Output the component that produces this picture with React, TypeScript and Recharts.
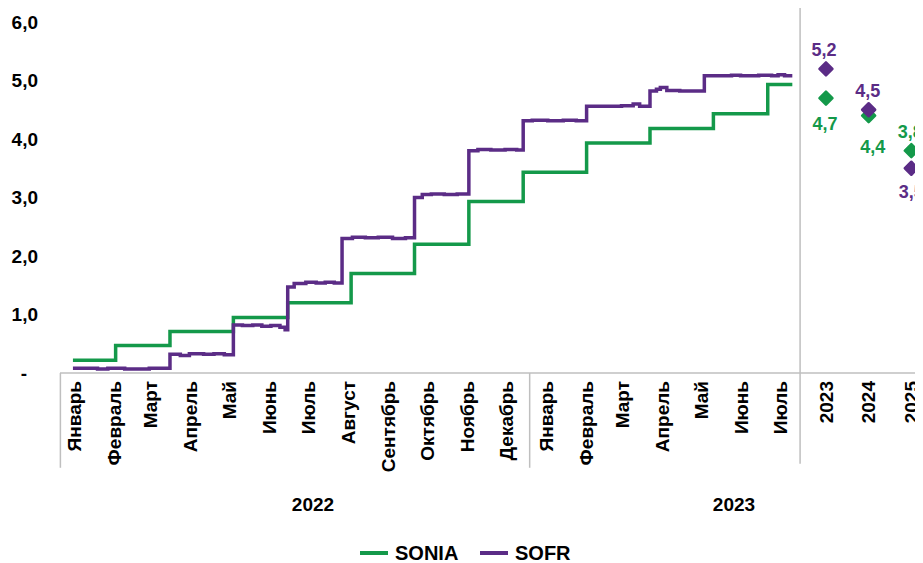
import React from "react";
import { ComposedChart, Line, Scatter, XAxis, YAxis, ReferenceLine } from "recharts";

// ---------------- data ----------------
const SONIA_DATES = [
  "2022-01-01", "2022-02-03", "2022-03-17", "2022-05-05", "2022-06-16", "2022-08-04",
  "2022-09-22", "2022-11-03", "2022-12-15", "2023-02-02", "2023-03-23", "2023-05-11",
  "2023-06-22", "2023-07-11",
];
const SONIA_VALUES = [0.22, 0.47, 0.71, 0.95, 1.2, 1.7, 2.2, 2.93, 3.43, 3.93, 4.18, 4.43, 4.93, 4.93];

const SOFR_DATES = [
  "2022-01-01", "2022-01-20", "2022-01-28", "2022-02-10", "2022-03-01",
  "2022-03-17", "2022-03-25", "2022-04-01", "2022-04-12", "2022-04-20", "2022-04-28",
  "2022-05-05", "2022-05-12", "2022-05-20", "2022-05-27", "2022-06-03", "2022-06-10", "2022-06-14",
  "2022-06-16", "2022-06-21", "2022-06-30", "2022-07-08", "2022-07-15", "2022-07-22",
  "2022-07-28", "2022-08-05", "2022-08-15", "2022-08-25", "2022-09-05", "2022-09-15",
  "2022-09-22", "2022-09-28", "2022-10-05", "2022-10-15", "2022-10-25",
  "2022-11-03", "2022-11-10", "2022-11-20", "2022-12-01", "2022-12-10",
  "2022-12-15", "2022-12-22", "2023-01-03", "2023-01-15", "2023-01-25",
  "2023-02-02", "2023-02-15", "2023-03-01", "2023-03-10", "2023-03-15",
  "2023-03-23", "2023-03-28", "2023-03-31", "2023-04-05", "2023-04-15", "2023-04-25",
  "2023-05-04", "2023-05-15", "2023-05-25", "2023-06-01", "2023-06-15", "2023-06-25",
  "2023-06-30", "2023-07-05", "2023-07-11",
];
const SOFR_VALUES = [
  0.08, 0.07, 0.08, 0.07, 0.08,
  0.32, 0.3, 0.33, 0.32, 0.33, 0.31,
  0.82, 0.81, 0.82, 0.8, 0.81, 0.78, 0.74,
  1.47, 1.53, 1.55, 1.54, 1.55, 1.54,
  2.3, 2.32, 2.31, 2.32, 2.3, 2.31,
  3.0, 3.05, 3.06, 3.05, 3.06,
  3.8, 3.82, 3.81, 3.82, 3.81,
  4.31, 4.32, 4.31, 4.32, 4.31,
  4.56, 4.56, 4.57, 4.6, 4.56,
  4.82, 4.85, 4.88, 4.83, 4.82, 4.82,
  5.08, 5.08, 5.09, 5.08, 5.09, 5.08,
  5.1, 5.08, 5.08,
];

const MONTH_TICK_DATES = [
  "2022-01-01", "2022-02-01", "2022-03-01", "2022-04-01", "2022-05-01", "2022-06-01",
  "2022-07-01", "2022-08-01", "2022-09-01", "2022-10-01", "2022-11-01", "2022-12-01",
  "2023-01-01", "2023-02-01", "2023-03-01", "2023-04-01", "2023-05-01", "2023-06-01",
  "2023-07-01",
];
const MONTH_LABELS = [
  "Январь", "Февраль", "Март", "Апрель", "Май", "Июнь", "Июль", "Август", "Сентябрь",
  "Октябрь", "Ноябрь", "Декабрь", "Январь", "Февраль", "Март", "Апрель", "Май", "Июнь", "Июль",
];
const YEAR_GROUPS = ["2022", "2023"];

const FORECAST_YEARS = ["2023", "2024", "2025"];
const SOFR_FORECAST = [5.2, 4.5, 3.5];
const SONIA_FORECAST = [4.7, 4.4, 3.8];

const Y_TICKS = [0, 1, 2, 3, 4, 5, 6];
const SERIES_NAMES = ["SONIA", "SOFR"];

// ---------------- layout / style ----------------
const GREEN = "#14994a";
const PURPLE = "#5b2c86";
const GRID = "#bfbfbf";
const FONT = "'Liberation Sans', Arial, sans-serif";

const FORECAST_X0 = 582;
const FORECAST_STEP = 33;
const FORECAST_SEPARATOR = 562;
const YEAR_BOUNDARY = 353;
const X_MIN = -10;
const X_MAX = 657;

const SOFR_LABEL_DY = [-19, -19, 23];
const SONIA_LABEL_DY = [26, 31, -19];
const SONIA_LABEL_DX = [-1, 4, -1];
const SOFR_LABEL_DX = [-2, -1, 0];

const BASE = Date.UTC(2022, 0, 1);
const dayIndex = (s: string) => {
  const [y, m, d] = s.split("-").map(Number);
  return Math.round((Date.UTC(y, m - 1, d) - BASE) / 86400000);
};

const soniaData = SONIA_DATES.map((d, i) => ({ x: dayIndex(d), y: SONIA_VALUES[i] }));
const sofrData = SOFR_DATES.map((d, i) => ({ x: dayIndex(d), y: SOFR_VALUES[i] }));
const soniaForecast = FORECAST_YEARS.map((_, i) => ({ x: FORECAST_X0 + i * FORECAST_STEP, y: SONIA_FORECAST[i], i }));
const sofrForecast = FORECAST_YEARS.map((_, i) => ({ x: FORECAST_X0 + i * FORECAST_STEP, y: SOFR_FORECAST[i], i }));

const tickLabels = new Map<number, { text: string; dx: number }>();
MONTH_TICK_DATES.forEach((d, i) => tickLabels.set(dayIndex(d), { text: MONTH_LABELS[i], dx: 1 }));
FORECAST_YEARS.forEach((yr, i) => tickLabels.set(FORECAST_X0 + i * FORECAST_STEP, { text: yr, dx: 0 }));
const xTicks = Array.from(tickLabels.keys());

const fmt = (v: number) => v.toFixed(1).replace(".", ",");

const XTick = (props: any) => {
  const { x, payload } = props;
  const info = tickLabels.get(payload.value);
  if (!info) return null;
  return (
    <text
      transform={`translate(${x + info.dx}, 373) rotate(-90)`}
      textAnchor="end"
      dy="0.35em"
      fontFamily={FONT}
      fontWeight="bold"
      fontSize={19}
      fill="#000"
    >
      {info.text}
    </text>
  );
};

const YTick = (props: any) => {
  const { y, payload } = props;
  const v = payload.value;
  return (
    <text
      x={v === 0 ? 19 : 30}
      y={y}
      dy="0.35em"
      textAnchor="end"
      fontFamily={FONT}
      fontWeight="bold"
      fontSize={19}
      fill="#000"
    >
      {v === 0 ? "-" : fmt(v)}
    </text>
  );
};

const makeDiamond = (color: string, dys: number[], dxs: number[]) => (props: any) => {
  const { cx, cy, payload } = props;
  const r = 6.5;
  const i = payload?.i ?? 0;
  return (
    <g>
      <path
        d={`M${cx},${cy - r} L${cx + r},${cy} L${cx},${cy + r} L${cx - r},${cy} Z`}
        fill={color}
        stroke={color}
        strokeWidth={2.5}
        strokeLinejoin="round"
      />
      <text
        x={cx + dxs[i]}
        y={cy + dys[i]}
        dy="0.35em"
        textAnchor="middle"
        fontFamily={FONT}
        fontWeight="bold"
        fontSize={18}
        fill={color}
      >
        {fmt(payload.y)}
      </text>
    </g>
  );
};

const SoniaShape = makeDiamond(GREEN, SONIA_LABEL_DY, SONIA_LABEL_DX);
const SofrShape = makeDiamond(PURPLE, SOFR_LABEL_DY, SOFR_LABEL_DX);

const textStyle: React.CSSProperties = {
  position: "absolute",
  fontFamily: FONT,
  fontWeight: "bold",
  fontSize: 19,
  color: "#000",
  lineHeight: "20px",
  whiteSpace: "nowrap",
};

export default function App() {
  const colors = [GREEN, PURPLE];
  const legendLeft = [352, 472];
  const yearCenters = [305, 726];
  return (
    <div style={{ position: "relative", width: 915, height: 555 }}>
      <ComposedChart
        width={915}
        height={555}
        margin={{ top: 14, right: 0, left: 0, bottom: 0 }}
      >
        <XAxis
          dataKey="x"
          type="number"
          domain={[X_MIN, X_MAX]}
          allowDataOverflow
          ticks={xTicks}
          interval={0}
          tick={<XTick />}
          tickLine={false}
          axisLine={{ stroke: GRID, strokeWidth: 1.5 }}
          height={190}
        />
        <YAxis
          dataKey="y"
          type="number"
          domain={[0, 6]}
          ticks={Y_TICKS}
          interval={0}
          tick={<YTick />}
          axisLine={false}
          tickLine={false}
          width={52}
        />
        <ReferenceLine
          segment={[{ x: FORECAST_SEPARATOR, y: -1.55 }, { x: FORECAST_SEPARATOR, y: 6.24 }]}
          stroke={GRID}
          strokeWidth={1.5}
          ifOverflow="visible"
        />
        <ReferenceLine
          segment={[{ x: YEAR_BOUNDARY, y: -1.62 }, { x: YEAR_BOUNDARY, y: 0 }]}
          stroke={GRID}
          strokeWidth={1.5}
          ifOverflow="visible"
        />
        <ReferenceLine
          segment={[{ x: X_MIN + 0.3, y: -1.62 }, { x: X_MIN + 0.3, y: 0 }]}
          stroke={GRID}
          strokeWidth={1.5}
          ifOverflow="visible"
        />
        <Line
          data={soniaData}
          dataKey="y"
          type="stepAfter"
          stroke={GREEN}
          strokeWidth={3.5}
          dot={false}
          isAnimationActive={false}
          name={SERIES_NAMES[0]}
        />
        <Line
          data={sofrData}
          dataKey="y"
          type="stepAfter"
          stroke={PURPLE}
          strokeWidth={3.5}
          dot={false}
          isAnimationActive={false}
          name={SERIES_NAMES[1]}
        />
        <Scatter data={soniaForecast} dataKey="y" shape={SoniaShape} isAnimationActive={false} />
        <Scatter data={sofrForecast} dataKey="y" shape={SofrShape} isAnimationActive={false} />
      </ComposedChart>

      {YEAR_GROUPS.map((g, i) => (
        <div key={g + i} style={{ ...textStyle, left: yearCenters[i] - 30, width: 60, textAlign: "center", top: 487 }}>
          {g}
        </div>
      ))}

      {SERIES_NAMES.map((n, i) => (
        <React.Fragment key={n}>
          <div
            style={{
              position: "absolute",
              left: legendLeft[i],
              top: 543,
              width: 28,
              height: 3.5,
              background: colors[i],
            }}
          />
          <div style={{ ...textStyle, fontSize: 20, left: legendLeft[i] + 35, top: 535 }}>{n}</div>
        </React.Fragment>
      ))}
    </div>
  );
}
